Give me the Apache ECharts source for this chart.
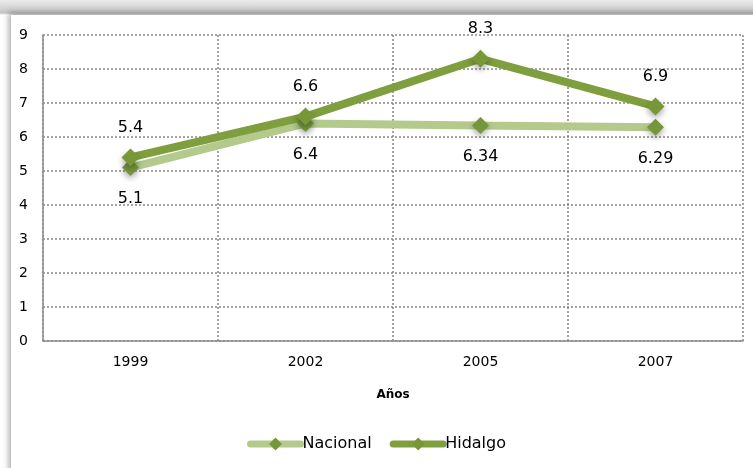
<!DOCTYPE html>
<html>
<head>
<meta charset="utf-8">
<script src="https://cdn.jsdelivr.net/npm/echarts@6/dist/echarts.min.js"></script>
<style>
  html, body { margin: 0; padding: 0; }
  .page {
    position: relative; width: 753px; height: 468px; overflow: hidden;
    background: linear-gradient(180deg, #ececec 0px, #c4c4c4 13px, #ffffff 15px);
  }
  .panel {
    position: absolute; left: 11px; top: 15px; width: 760px; height: 470px;
    background: #fff; box-shadow: -2px -2px 6px rgba(0,0,0,0.35);
  }
  #main { position: absolute; left: 0; top: 0; width: 753px; height: 468px; }
</style>
</head>
<body>
<div class="page">
  <div class="panel"></div>
  <div id="main"></div>
</div>
<script>
  var years = ['1999', '2002', '2005', '2007'];
  var nacional = [5.1, 6.4, 6.34, 6.29];
  var hidalgo = [5.4, 6.6, 8.3, 6.9];

  var chartDom = document.getElementById('main');
  var myChart = echarts.init(chartDom);
  var font = 'DejaVu Sans';
  var option = {
    animation: false,
    textStyle: { fontFamily: font },
    legend: {
      bottom: 11,
      left: 'center',
      itemWidth: 50,
      itemHeight: 16,
      itemGap: 18,
      lineStyle: { width: 7, cap: 'round' },
      textStyle: { fontSize: 16, color: '#000', fontFamily: font, padding: [0, 0, 0, -3] },
      data: ['Nacional', 'Hidalgo']
    },
    grid: { left: 43, right: 10, top: 35, bottom: 127 },
    xAxis: {
      type: 'category',
      data: years,
      boundaryGap: true,
      name: 'Años',
      nameLocation: 'middle',
      nameGap: 48,
      nameTextStyle: { fontWeight: 'bold', fontSize: 12, color: '#000', fontFamily: font },
      axisLine: { lineStyle: { color: '#8c8c8c', width: 1.5 } },
      axisTick: { show: false },
      axisLabel: { fontSize: 14, color: '#000', margin: 14, fontFamily: font },
      splitLine: { show: true, lineStyle: { color: '#888', type: [2, 2], width: 1.5 } }
    },
    yAxis: {
      type: 'value',
      min: 0,
      max: 9,
      interval: 1,
      axisLine: { show: true, lineStyle: { color: '#8c8c8c', width: 1.5 } },
      axisTick: { show: false },
      axisLabel: { fontSize: 14, color: '#000', margin: 15, fontFamily: font },
      splitLine: { lineStyle: { color: '#888', type: [2, 2], width: 1.5 } }
    },
    series: [
      {
        name: 'Nacional',
        type: 'line',
        data: nacional,
        symbol: 'diamond',
        symbolSize: 17,
        color: '#b3ca8c',
        lineStyle: { width: 8, color: '#b3ca8c', cap: 'round' },
        itemStyle: {
          color: '#76963a',
          shadowBlur: 6, shadowColor: 'rgba(0,0,0,0.35)', shadowOffsetY: 3
        },
        label: { show: true, position: 'bottom', distance: 15, fontSize: 16, color: '#000', fontFamily: font }
      },
      {
        name: 'Hidalgo',
        type: 'line',
        data: hidalgo,
        symbol: 'diamond',
        symbolSize: 18,
        color: '#7f9e3e',
        lineStyle: { width: 8, color: '#7f9e3e', cap: 'round' },
        itemStyle: {
          color: '#789838',
          shadowBlur: 6, shadowColor: 'rgba(0,0,0,0.35)', shadowOffsetY: 3
        },
        label: { show: true, position: 'top', distance: 13, fontSize: 16, color: '#000', fontFamily: font }
      }
    ]
  };
  option && myChart.setOption(option);
</script>
</body>
</html>
